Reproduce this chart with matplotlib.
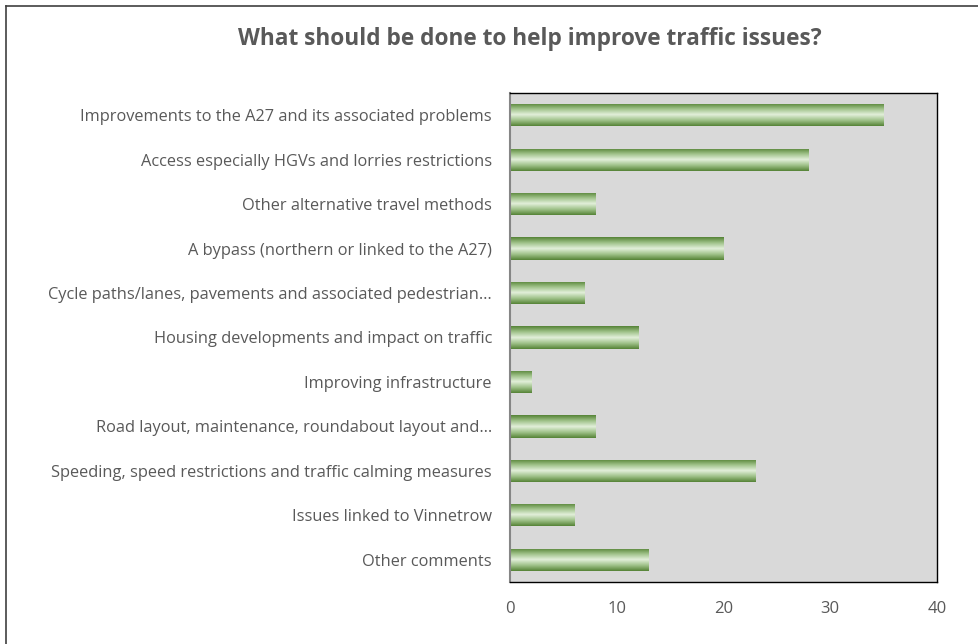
import numpy as np
import matplotlib.pyplot as plt
from matplotlib.colors import LinearSegmentedColormap
from matplotlib.lines import Line2D

categories = [
    "Improvements to the A27 and its associated problems",
    "Access especially HGVs and lorries restrictions",
    "Other alternative travel methods",
    "A bypass (northern or linked to the A27)",
    "Cycle paths/lanes, pavements and associated pedestrian\u2026",
    "Housing developments and impact on traffic",
    "Improving infrastructure",
    "Road layout, maintenance, roundabout layout and\u2026",
    "Speeding, speed restrictions and traffic calming measures",
    "Issues linked to Vinnetrow",
    "Other comments",
]
counts = [35, 28, 8, 20, 7, 12, 2, 8, 23, 6, 13]
xticks = [0, 10, 20, 30, 40]

plt.rcParams['font.family'] = ['Open Sans', 'DejaVu Sans']
text_col = '#595959'

fig = plt.figure(figsize=(9.79, 6.44), dpi=100)
ax = fig.add_axes([510 / 979, 1 - 582 / 644, 427 / 979, 489 / 644])
ax.set_facecolor('#d9d9d9')

y = np.arange(len(categories))
bars = ax.barh(y, counts, height=0.5, color='none', edgecolor='none')

# green cylinder-style fill: dark at the edges, pale in the middle
shade = LinearSegmentedColormap.from_list(
    'shade', ['#548235', '#9fc289', '#e2efda', '#9fc289', '#548235'])
grad = np.linspace(0, 1, 256).reshape(-1, 1)
for b in bars:
    x0, y0 = b.get_x(), b.get_y()
    w, h = b.get_width(), b.get_height()
    im = ax.imshow(grad, cmap=shade, aspect='auto',
                   extent=(x0, x0 + w, y0, y0 + h), zorder=2)
    im.set_clip_path(b)

ax.set_xlim(0, 40)
ax.set_ylim(len(categories) - 0.5, -0.5)
ax.set_yticks(y)
ax.set_yticklabels(categories, fontsize=11.8, color=text_col)
ax.set_xticks(xticks)
ax.set_xticklabels([str(t) for t in xticks], fontsize=12, color=text_col)
ax.tick_params(axis='y', length=0, pad=13)
ax.tick_params(axis='x', length=0, pad=14)

for s in ['top', 'right', 'bottom']:
    ax.spines[s].set_color('#000000')
    ax.spines[s].set_linewidth(1.0)
ax.spines['left'].set_color('#868686')
ax.spines['left'].set_linewidth(1.5)

fig.text(530 / 979, 1 - 39 / 644, "What should be done to help improve traffic issues?",
         ha='center', va='center', fontsize=16.3, fontweight='bold', color=text_col)

# chart frame
fig.add_artist(Line2D([6 / 979, 6 / 979], [0, 1 - 6 / 644], transform=fig.transFigure,
                      color='#404040', lw=1.2))
fig.add_artist(Line2D([6 / 979, 1], [1 - 6 / 644, 1 - 6 / 644], transform=fig.transFigure,
                      color='#404040', lw=1.2))

fig.savefig('out.png', dpi=100)
